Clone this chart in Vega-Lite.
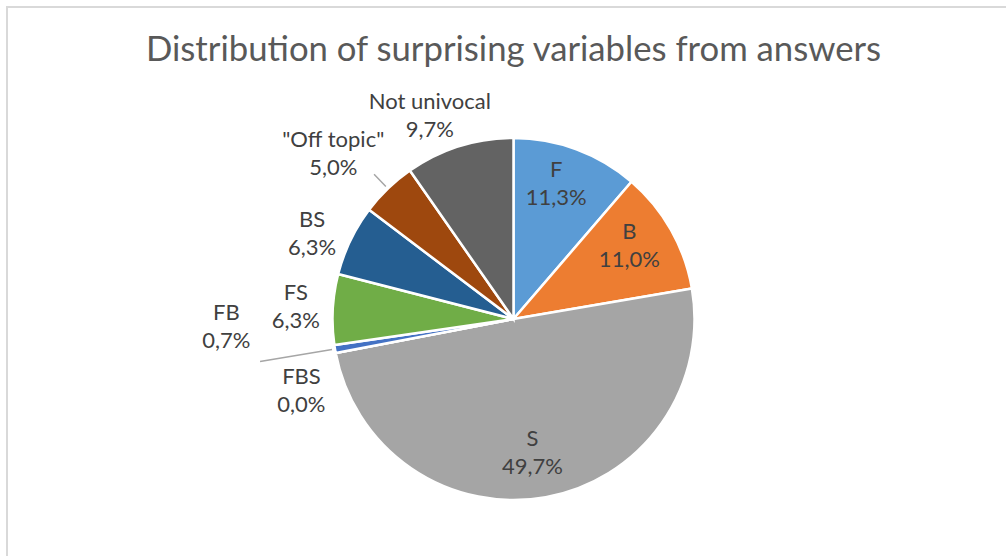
{
  "$schema": "https://vega.github.io/schema/vega-lite/v6.json",
  "width": 1013,
  "height": 624,
  "autosize": "none",
  "padding": {"left": 7, "top": 7, "right": -14, "bottom": -75},
  "background": "white",
  "view": {"stroke": "#D9D9D9", "strokeWidth": 2, "fill": null},
  "title": {
    "text": "Distribution of surprising variables from answers",
    "font": "Lato",
    "fontSize": 34.7,
    "fontWeight": "normal",
    "color": "#595959",
    "anchor": "middle",
    "baseline": "alphabetic",
    "offset": -110
  },
  "config": {
    "view": {"stroke": "#D9D9D9", "strokeWidth": 2}
  },
  "data": {
    "values": [
      {"i": 1, "cat": "F", "share": 0.113},
      {"i": 2, "cat": "B", "share": 0.110},
      {"i": 3, "cat": "S", "share": 0.497},
      {"i": 4, "cat": "FBS", "share": 0.000},
      {"i": 5, "cat": "FB", "share": 0.007},
      {"i": 6, "cat": "FS", "share": 0.063},
      {"i": 7, "cat": "BS", "share": 0.063},
      {"i": 8, "cat": "\"Off topic\"", "share": 0.050},
      {"i": 9, "cat": "Not univocal", "share": 0.097}
    ]
  },
  "encoding": {
    "theta": {"field": "share", "type": "quantitative", "stack": true},
    "order": {"field": "i", "type": "quantitative"},
    "detail": {"field": "cat", "type": "nominal"}
  },
  "layer": [
    {
      "mark": {"type": "arc", "outerRadius": 181, "stroke": "white", "strokeWidth": 2.5},
      "encoding": {
        "color": {
          "field": "cat",
          "type": "nominal",
          "sort": null,
          "scale": {
            "domain": ["F", "B", "S", "FBS", "FB", "FS", "BS", "\"Off topic\"", "Not univocal"],
            "range": ["#5B9BD5", "#ED7D31", "#A5A5A5", "#FFC000", "#4472C4", "#70AD47", "#255E91", "#9E480E", "#636363"]
          },
          "legend": null
        }
      }
    },
    {
      "mark": {"type": "arc", "innerRadius": 184, "outerRadius": 257, "padAngle": 0.6, "fill": null, "stroke": "#A6A6A6", "strokeWidth": 1.5},
      "encoding": {"strokeOpacity": {"condition": {"test": "datum.i === 5", "value": 1}, "value": 0}}
    },
    {
      "mark": {"type": "arc", "innerRadius": 184, "outerRadius": 201, "padAngle": 0.6, "fill": null, "stroke": "#A6A6A6", "strokeWidth": 1.5},
      "encoding": {"strokeOpacity": {"condition": {"test": "datum.i === 8", "value": 1}, "value": 0}}
    },
    {
      "mark": {"type": "text", "radius": 140, "dx": -6, "dy": -18, "font": "Lato", "fontSize": 22, "color": "#404040", "lineHeight": 28, "align": "center", "baseline": "middle",
        "text": {"expr": "datum.i <= 3 ? [datum.cat, replace(format(datum.share, '.1%'), '.', ',')] : ''"}}
    },
    {
      "mark": {"type": "text", "radius": 219, "dx": -18, "dy": -8, "font": "Lato", "fontSize": 22, "color": "#404040", "lineHeight": 28, "align": "center", "baseline": "middle",
        "text": {"expr": "datum.i === 9 ? [datum.cat, replace(format(datum.share, '.1%'), '.', ',')] : ''"}}
    },
    {
      "mark": {"type": "text", "radius": 244, "dx": -11, "dy": -3, "font": "Lato", "fontSize": 22, "color": "#404040", "lineHeight": 28, "align": "center", "baseline": "middle",
        "text": {"expr": "datum.i === 8 ? [datum.cat, replace(format(datum.share, '.1%'), '.', ',')] : ''"}}
    },
    {
      "mark": {"type": "text", "radius": 218, "dx": -5, "dy": -4, "font": "Lato", "fontSize": 22, "color": "#404040", "lineHeight": 28, "align": "center", "baseline": "middle",
        "text": {"expr": "datum.i === 7 ? [datum.cat, replace(format(datum.share, '.1%'), '.', ',')] : ''"}}
    },
    {
      "mark": {"type": "text", "radius": 218, "dx": 0, "dy": -14, "font": "Lato", "fontSize": 22, "color": "#404040", "lineHeight": 28, "align": "center", "baseline": "middle",
        "text": {"expr": "datum.i === 6 ? [datum.cat, replace(format(datum.share, '.1%'), '.', ',')] : ''"}}
    },
    {
      "mark": {"type": "text", "radius": 282, "dx": -9, "dy": -53, "font": "Lato", "fontSize": 22, "color": "#404040", "lineHeight": 28, "align": "center", "baseline": "middle",
        "text": {"expr": "datum.i === 5 ? [datum.cat, replace(format(datum.share, '.1%'), '.', ',')] : ''"}}
    },
    {
      "mark": {"type": "text", "radius": 222, "dx": 6, "dy": 16, "font": "Lato", "fontSize": 22, "color": "#404040", "lineHeight": 28, "align": "center", "baseline": "middle",
        "text": {"expr": "datum.i === 4 ? [datum.cat, replace(format(datum.share, '.1%'), '.', ',')] : ''"}}
    }
  ]
}
